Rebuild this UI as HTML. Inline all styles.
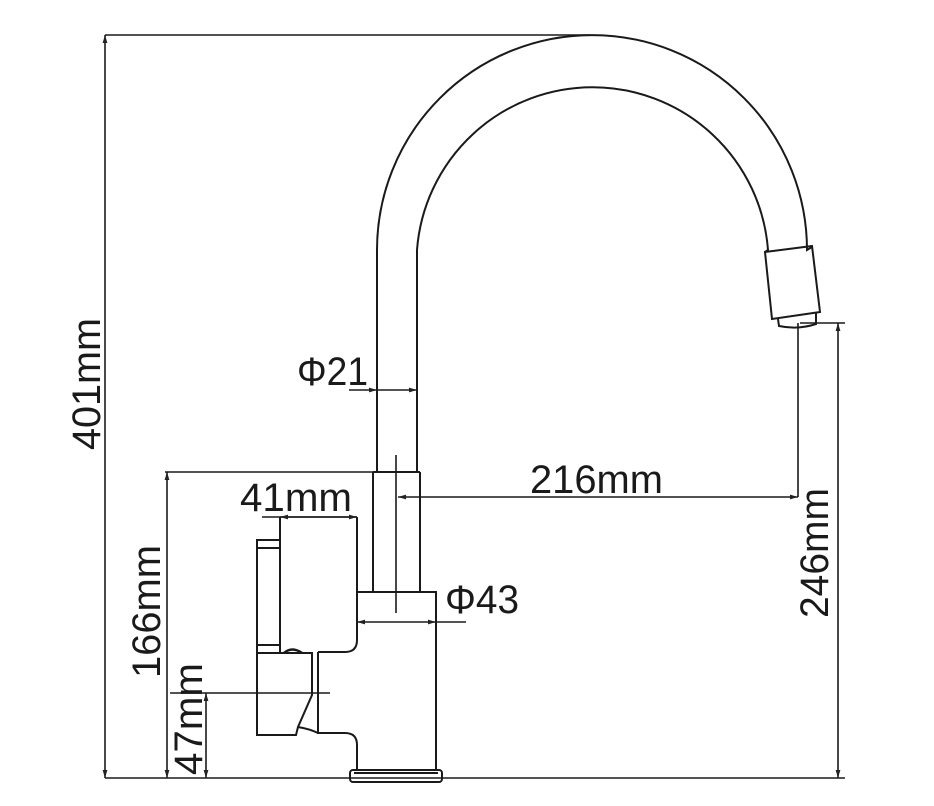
<!DOCTYPE html>
<html><head><meta charset="utf-8"><style>
html,body{margin:0;padding:0;background:#fff;}
svg{display:block;}
text{font-family:"Liberation Sans",Arial,sans-serif;font-size:40px;fill:#1a1a1a;}
</style></head><body>
<svg width="934" height="806" viewBox="0 0 934 806" xmlns="http://www.w3.org/2000/svg">
<defs>
<marker id="a" viewBox="0 0 10 6" refX="10" refY="3" markerWidth="8" markerHeight="5" orient="auto-start-reverse" markerUnits="userSpaceOnUse"><path d="M0,0 L10,3 L0,6 z" fill="#222"/></marker>
</defs>
<g fill="none" stroke="#1a1a1a" stroke-width="1.6">
<line x1="105" y1="35" x2="590" y2="35"/>
<line x1="105" y1="35" x2="105" y2="778" marker-start="url(#a)" marker-end="url(#a)"/>
<line x1="105" y1="778" x2="845" y2="778"/>
<line x1="165" y1="472" x2="375" y2="472"/>
<line x1="167" y1="472" x2="167" y2="778" marker-start="url(#a)" marker-end="url(#a)"/>
<line x1="170" y1="693" x2="330" y2="693"/>
<line x1="206" y1="693" x2="206" y2="778" marker-start="url(#a)" marker-end="url(#a)"/>
<line x1="800" y1="323" x2="845" y2="323"/>
<line x1="838" y1="323" x2="838" y2="778" marker-start="url(#a)" marker-end="url(#a)"/>
<line x1="798" y1="323" x2="798" y2="497"/>
<line x1="398" y1="497" x2="798" y2="497" marker-start="url(#a)" marker-end="url(#a)"/>
<line x1="349" y1="390" x2="377" y2="390" marker-end="url(#a)"/>
<line x1="377" y1="390" x2="417" y2="390" marker-end="url(#a)"/>
<line x1="357" y1="622" x2="436" y2="622" marker-start="url(#a)" marker-end="url(#a)"/>
<line x1="436" y1="622" x2="466" y2="622"/>
<line x1="262" y1="517" x2="357" y2="517"/>
<line x1="280" y1="517" x2="357" y2="517" marker-start="url(#a)" marker-end="url(#a)"/>
</g>
<g fill="none" stroke="#1a1a1a" stroke-width="2">
<path d="M377,472 L377,250 A215,215 0 0 1 807,250 L812,247"/>
<path d="M417,472 L417,250 A176,176 0 0 1 768,250 L765,252"/>
<path d="M765,252 L812,246 L820,312 L772,319 Z"/>
<path d="M778,319 L779,326 Q798,330 816,324 L816,313"/>
<path d="M373,472 L420,472 M373,472 L373,592 M420,472 L420,592"/>
<line x1="396" y1="455" x2="396" y2="613" stroke-width="1.6"/>
<path d="M357,592 L436,592 L436,770"/>
<path d="M357,592 L357,640 Q357,652 345,652 L318,652"/>
<path d="M318,652 L318,733 L345,733 Q357,733 357,745 L357,770"/>
<rect x="350" y="770" width="92" height="12" rx="3"/>
<line x1="354" y1="773" x2="438" y2="773"/>
<line x1="280" y1="517" x2="280" y2="653"/>
<line x1="357" y1="517" x2="357" y2="592"/>
<rect x="257" y="540" width="23" height="113"/>
<line x1="257" y1="548" x2="280" y2="548"/>
<line x1="257" y1="645" x2="280" y2="645"/>
<path d="M280,653 L312,653 L312,695 L298,727 L296,735 L257,735 L257,653"/>
<path d="M298,727 Q310,729 318,733"/>
<path d="M284,653 Q292,646 302,653" stroke-width="2.5"/>
</g>
<text x="530" y="493" textLength="133" lengthAdjust="spacingAndGlyphs">216mm</text>
<text x="297" y="385" textLength="71" lengthAdjust="spacingAndGlyphs">Φ21</text>
<text x="445" y="613" textLength="74" lengthAdjust="spacingAndGlyphs">Φ43</text>
<text x="240" y="511" textLength="112" lengthAdjust="spacingAndGlyphs">41mm</text>
<text transform="translate(100,450) rotate(-90)" textLength="132" lengthAdjust="spacingAndGlyphs">401mm</text>
<text transform="translate(160,678) rotate(-90)" textLength="133" lengthAdjust="spacingAndGlyphs">166mm</text>
<text transform="translate(202,775) rotate(-90)" textLength="112" lengthAdjust="spacingAndGlyphs">47mm</text>
<text transform="translate(828,618) rotate(-90)" textLength="130" lengthAdjust="spacingAndGlyphs">246mm</text>
</svg>
</body></html>
